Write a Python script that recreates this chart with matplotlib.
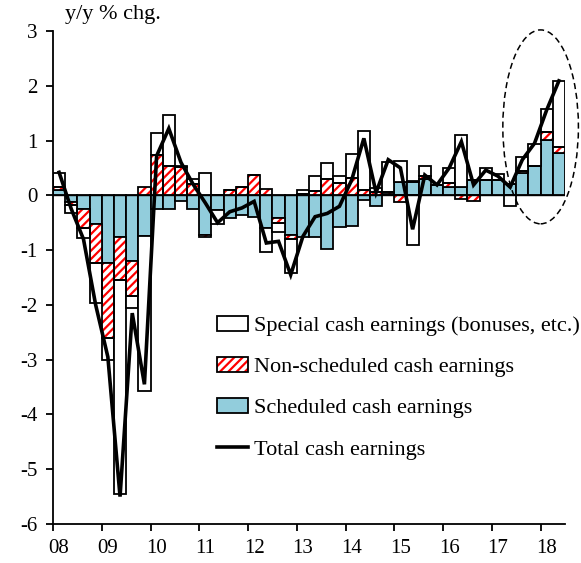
import numpy as np
import matplotlib
matplotlib.use("Agg")
import matplotlib.pyplot as plt
from matplotlib.patches import Patch, Ellipse
from matplotlib.lines import Line2D
from matplotlib.legend_handler import HandlerTuple

plt.rcParams['font.family'] = ['Liberation Serif', 'DejaVu Serif']
plt.rcParams['axes.unicode_minus'] = False
plt.rcParams['hatch.linewidth'] = 1.6

# Quarterly 2008Q1 .. 2018Q2
years = ['08', '09', '10', '11', '12', '13', '14', '15', '16', '17', '18']

scheduled = [0.10, -0.13, -0.25, -0.52, -1.24, -0.76, -1.19, -0.74,
             -0.25, -0.25, -0.11, -0.25,
             -0.72, -0.27, -0.42, -0.36, -0.39, -0.60, -0.42, -0.72,
             -0.76, -0.76, -0.98, -0.58, -0.56, -0.08, -0.20, 0.02,
             0.24, 0.24, 0.30, 0.19, 0.16, 0.16, 0.28, 0.28,
             0.28, 0.20, 0.40, 0.53, 1.01, 0.77]
nonscheduled = [0.05, -0.05, -0.35, -0.71, -1.36, -0.79, -0.64, 0.15,
                0.74, 0.54, 0.51, 0.21,
                -0.04, 0.00, 0.10, 0.15, 0.37, 0.12, -0.08, -0.08,
                0.03, 0.08, 0.30, 0.23, 0.32, 0.10, 0.06, 0.04,
                -0.12, 0.03, 0.05, 0.00, 0.06, -0.06, -0.10, 0.00,
                0.00, 0.00, 0.05, 0.00, 0.14, 0.12]
special = [0.25, -0.15, -0.17, -0.74, -0.40, -3.90, -0.23, -2.84,
           0.40, 0.93, 0.02, 0.09,
           0.40, -0.25, 0.00, 0.00, 0.00, -0.43, -0.17, -0.61,
           0.06, 0.27, 0.29, 0.12, 0.44, 1.08, 0.07, 0.54,
           0.39, -0.91, 0.18, 0.00, 0.28, 0.94, 0.00, 0.22,
           0.11, -0.19, 0.25, 0.41, 0.42, 1.19]
total = [0.42, -0.25, -0.80, -2.00, -2.95, -5.50, -2.15, -3.45,
         0.72, 1.22, 0.60, 0.20,
         -0.14, -0.50, -0.30, -0.23, -0.11, -0.87, -0.84, -1.45,
         -0.75, -0.39, -0.33, -0.20, 0.28, 1.04, 0.05, 0.65,
         0.50, -0.62, 0.37, 0.19, 0.50, 0.98, 0.19, 0.46,
         0.35, 0.15, 0.65, 0.95, 1.56, 2.09]

BLUE = '#92CDDC'
RED = '#FF0000'

fig = plt.figure(figsize=(5.81, 5.63), dpi=100)
ax = fig.add_axes([53/581, 1-524/563, (565-53)/581, (524-31)/563])

n = len(scheduled)
x = np.arange(n)
pos = np.zeros(n)
neg = np.zeros(n)

def stack(vals):
    vals = np.asarray(vals, dtype=float)
    b = np.where(vals >= 0, pos, neg)
    return vals, b

def advance(vals):
    global pos, neg
    pos = pos + np.where(vals >= 0, vals, 0)
    neg = neg + np.where(vals < 0, vals, 0)

lw = 1.3
v, b = stack(scheduled)
ax.bar(x, v, bottom=b, width=1.0, color=BLUE, edgecolor='black', linewidth=lw, zorder=2)
advance(v)
v, b = stack(nonscheduled)
ax.bar(x, v, bottom=b, width=1.0, color='white', edgecolor=RED, hatch='////', linewidth=0, zorder=2)
ax.bar(x, v, bottom=b, width=1.0, fill=False, edgecolor='black', linewidth=lw, zorder=2.1)
advance(v)
v, b = stack(special)
ax.bar(x, v, bottom=b, width=1.0, color='white', edgecolor='black', linewidth=lw, zorder=2)
advance(v)

ax.axhline(0, color='black', linewidth=1.0, zorder=2.5)
ax.plot(x, total, color='black', linewidth=2.6, zorder=3, solid_joinstyle='miter')

ell = Ellipse((39.5, 1.25), width=6.2, height=3.54, fill=False, edgecolor='black',
              linestyle=(0, (4, 2.5)), linewidth=1.1, clip_on=False, zorder=4)
ax.add_patch(ell)

ax.set_xlim(-0.5, n - 0.5)
ax.set_ylim(-6, 3)
ax.set_yticks(range(-6, 4))
ax.set_yticklabels([str(t) for t in range(-6, 4)])
ax.set_xticks(np.arange(0, n, 4))
ax.set_xticklabels(years)
ax.set_xticks(np.arange(-0.5, n, 4), minor=True)
ax.tick_params(axis='x', which='major', length=0, pad=11, labelsize=15)
ax.tick_params(axis='x', which='minor', length=5, width=1.3, direction='out')
ax.tick_params(axis='y', length=5, width=1.3, direction='out', pad=6, labelsize=15)
for s in ['top', 'right']:
    ax.spines[s].set_visible(False)
for s in ['left', 'bottom']:
    ax.spines[s].set_linewidth(1.3)

fig.text(65/581, 1-15/563, 'y/y % chg.', fontsize=16, va='center', ha='left')

h_special = Patch(facecolor='white', edgecolor='black', linewidth=lw)
h_non = (Patch(facecolor='white', edgecolor=RED, hatch='////', linewidth=0),
         Patch(fill=False, edgecolor='black', linewidth=lw))
h_sched = Patch(facecolor=BLUE, edgecolor='black', linewidth=lw)
h_total = Line2D([], [], color='black', linewidth=2.6)
leg = ax.legend([h_special, h_non, h_sched, h_total],
                ['Special cash earnings (bonuses, etc.)', 'Non-scheduled cash earnings',
                 'Scheduled cash earnings', 'Total cash earnings'],
                handler_map={tuple: HandlerTuple(ndivide=1)},
                loc='upper left', bbox_to_anchor=(217/581, 1-316/563),
                bbox_transform=fig.transFigure, frameon=False, fontsize=16,
                borderpad=0, borderaxespad=0, handlelength=1.4, handletextpad=0.27,
                labelspacing=0.95, handleheight=0.63)

fig.savefig('out.png', dpi=100)
